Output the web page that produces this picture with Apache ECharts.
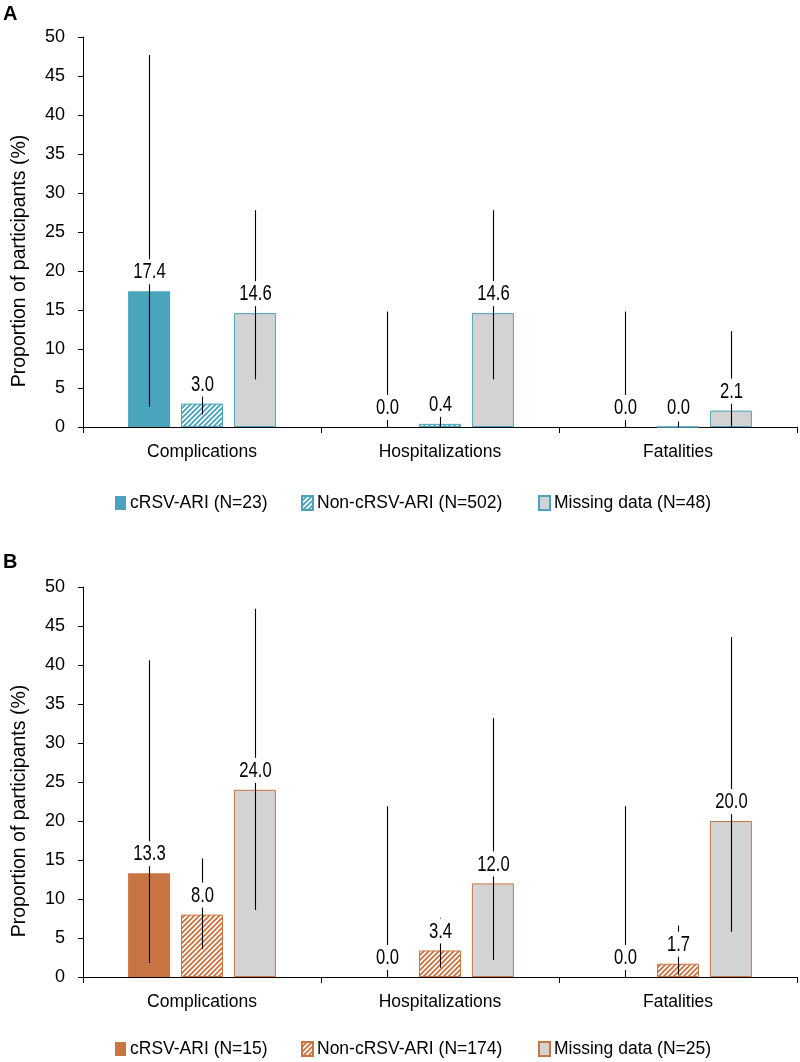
<!DOCTYPE html>
<html><head><meta charset="utf-8">
<script src="https://cdn.jsdelivr.net/npm/echarts@6/dist/echarts.min.js"></script>
<style>html,body{margin:0;padding:0;background:#fff}#c{width:800px;height:1062px}</style>
</head><body><div id="c"></div>
<script>
// ---------- DATA ----------
const categories = ['Complications', 'Hospitalizations', 'Fatalities'];
const yTicks = [0, 5, 10, 15, 20, 25, 30, 35, 40, 45, 50];

// Panel A
const namesA = ['cRSV-ARI (N=23)', 'Non-cRSV-ARI (N=502)', 'Missing data (N=48)'];
const cRSV_A = [17.4, 0.0, 0.0];
const cRSV_A_low = [2.6, 0.0, 0.0];
const cRSV_A_high = [47.7, 14.8, 14.8];
const non_A = [3.0, 0.4, 0.0];
const non_A_low = [1.6, 0.05, 0.0];
const non_A_high = [5.4, 1.4, 0.7];
const miss_A = [14.6, 14.6, 2.1];
const miss_A_low = [6.1, 6.1, 0.05];
const miss_A_high = [27.8, 27.8, 12.3];

// Panel B
const namesB = ['cRSV-ARI (N=15)', 'Non-cRSV-ARI (N=174)', 'Missing data (N=25)'];
const cRSV_B = [13.3, 0.0, 0.0];
const cRSV_B_low = [1.8, 0.0, 0.0];
const cRSV_B_high = [40.6, 21.9, 21.9];
const non_B = [8.0, 3.4, 1.7];
const non_B_low = [3.6, 1.2, 0.3];
const non_B_high = [15.2, 7.6, 6.6];
const miss_B = [24.0, 12.0, 20.0];
const miss_B_low = [8.6, 2.2, 5.8];
const miss_B_high = [47.2, 33.2, 43.6];

// ---------- STYLE ----------
const FONT = "'Liberation Sans',Arial,sans-serif";
const FS = 17.5;
const TEAL = '#4aa4bb';
const ORANGE = '#c97543';
const GRAY = '#d3d3d3';
const BAR_W = 42;
const BAR_GAP = 0.26;

function hatch(color) {
  const s = 5;
  const cv = document.createElement('canvas');
  cv.width = s; cv.height = s;
  const ctx = cv.getContext('2d');
  ctx.fillStyle = '#fff';
  ctx.fillRect(0, 0, s, s);
  ctx.strokeStyle = color;
  ctx.lineWidth = 1.9;
  ctx.beginPath();
  for (let k = -1; k <= 1; k++) {
    ctx.moveTo(k * s - 1, s + 1);
    ctx.lineTo(k * s + s + 1, -1);
  }
  ctx.stroke();
  return { image: cv, repeat: 'repeat' };
}

const chart = echarts.init(document.getElementById('c'), null, { renderer: 'canvas' });

const grids = [
  { left: 83, right: 3, top: 37, height: 390 },
  { left: 83, right: 3, top: 587, height: 390 }
];

function xAx(gi) {
  return {
    type: 'category', gridIndex: gi, data: categories, boundaryGap: true,
    axisLine: { lineStyle: { color: '#000', width: 1 } },
    axisTick: { show: true, length: 6, lineStyle: { color: '#000' } },
    axisLabel: { color: '#000', fontFamily: FONT, fontSize: FS, margin: 16 }
  };
}
function yAx(gi) {
  return {
    type: 'value', gridIndex: gi, min: yTicks[0], max: yTicks[yTicks.length - 1], interval: yTicks[1] - yTicks[0],
    splitLine: { show: false },
    axisLine: { show: true, lineStyle: { color: '#000', width: 1 } },
    axisTick: { show: true, length: 5, lineStyle: { color: '#000' } },
    axisLabel: { color: '#000', fontFamily: FONT, fontSize: 18, margin: 18 }
  };
}

function barSeries(name, data, gi, color, border) {
  return {
    type: 'bar', name, data, xAxisIndex: gi, yAxisIndex: gi,
    barWidth: BAR_W, barGap: (BAR_GAP * 100) + '%', z: 2,
    itemStyle: { color, borderColor: border, borderWidth: border ? 1 : 0 }
  };
}

function errSeries(vals, lows, highs, gi, slot) {
  const rows = vals.map((v, i) => [i, v, lows[i], highs[i]]);
  return {
    type: 'custom', xAxisIndex: gi, yAxisIndex: gi, z: 5, silent: true,
    data: rows,
    renderItem: function (params, api) {
      const i = api.value(0);
      const base = api.coord([i, 0]);
      const off = slot * BAR_W * (1 + BAR_GAP);
      const cx = Math.round(base[0] + off) + 0.5;
      const pV = api.coord([i, api.value(1)]);
      const pL = api.coord([i, api.value(2)]);
      const pH = api.coord([i, api.value(3)]);
      return {
        type: 'group',
        children: [
          { type: 'line', shape: { x1: cx, y1: pL[1], x2: cx, y2: pH[1] },
            style: { stroke: '#000', lineWidth: 1.1 } },
          { type: 'rect', shape: { x: cx - 7, y: pV[1] - 32, width: 14, height: 25 },
            style: { fill: '#fff' } },
          { type: 'text', x: cx, y: pV[1] - 19, scaleX: 0.74, scaleY: 1,
            style: { text: api.value(1).toFixed(1), font: '22.5px ' + FONT, fill: '#000',
              align: 'center', verticalAlign: 'middle' } }
        ]
      };
    }
  };
}

function legends(names, top) {
  const lefts = [110, 296, 533];
  return names.map((n, k) => ({
    data: [n], left: lefts[k], top, orient: 'horizontal',
    icon: 'rect', itemWidth: 11, itemHeight: 14, itemGap: 5,
    textStyle: { color: '#000', fontFamily: FONT, fontSize: FS, padding: [0, 0, 0, -1] },
    selectedMode: false
  }));
}

const option = {
  animation: false,
  backgroundColor: '#fff',
  grid: grids,
  xAxis: [xAx(0), xAx(1)],
  yAxis: [yAx(0), yAx(1)],
  legend: [...legends(namesA, 489), ...legends(namesB, 1035)],
  series: [
    barSeries(namesA[0], cRSV_A, 0, TEAL, null),
    barSeries(namesA[1], non_A, 0, hatch(TEAL), TEAL),
    barSeries(namesA[2], miss_A, 0, GRAY, TEAL),
    errSeries(cRSV_A, cRSV_A_low, cRSV_A_high, 0, -1),
    errSeries(non_A, non_A_low, non_A_high, 0, 0),
    errSeries(miss_A, miss_A_low, miss_A_high, 0, 1),
    barSeries(namesB[0], cRSV_B, 1, ORANGE, null),
    barSeries(namesB[1], non_B, 1, hatch(ORANGE), ORANGE),
    barSeries(namesB[2], miss_B, 1, GRAY, ORANGE),
    errSeries(cRSV_B, cRSV_B_low, cRSV_B_high, 1, -1),
    errSeries(non_B, non_B_low, non_B_high, 1, 0),
    errSeries(miss_B, miss_B_low, miss_B_high, 1, 1)
  ],
  graphic: [
    { type: 'text', left: 3, top: 4, style: { text: 'A', font: 'bold 20px Liberation Sans, Arial, sans-serif', fill: '#000' } },
    { type: 'text', left: 3, top: 552, style: { text: 'B', font: 'bold 20px Liberation Sans, Arial, sans-serif', fill: '#000' } },
    { type: 'text', x: 20, y: 261, rotation: Math.PI / 2,
      style: { text: 'Proportion of participants (%)', font: '19.5px ' + FONT, fill: '#000', align: 'center', verticalAlign: 'middle' } },
    { type: 'text', x: 20, y: 811, rotation: Math.PI / 2,
      style: { text: 'Proportion of participants (%)', font: '19.5px ' + FONT, fill: '#000', align: 'center', verticalAlign: 'middle' } }
  ]
};
chart.setOption(option);
</script>
</body></html>
